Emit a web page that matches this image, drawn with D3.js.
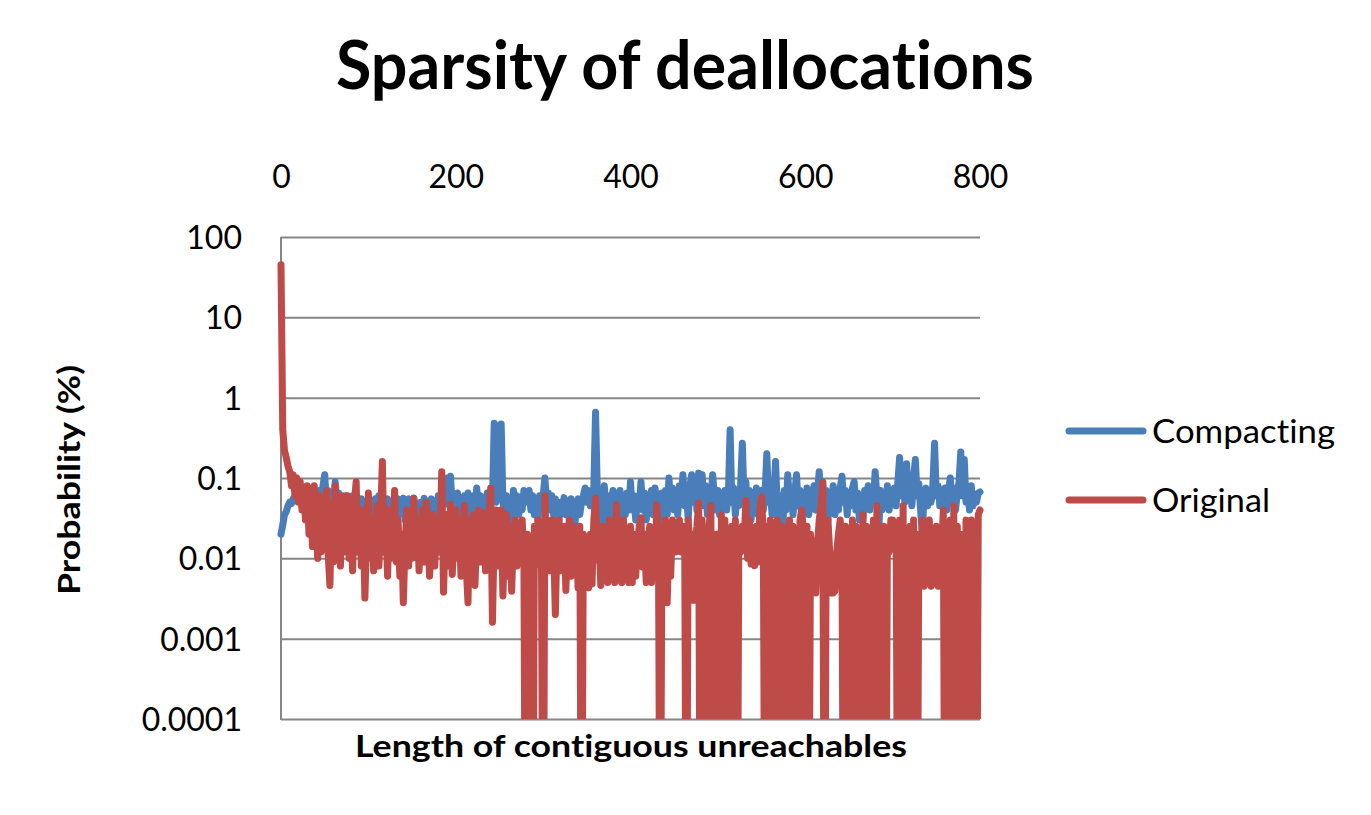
<!DOCTYPE html>
<html><head><meta charset="utf-8">
<script src="https://cdn.jsdelivr.net/npm/d3@7"></script>
<style>
body{margin:0;background:#fff;}
svg{display:block;}
text{font-family:Lato,"Open Sans",sans-serif;fill:#000;font-variant-ligatures:none;font-feature-settings:"liga" 0,"clig" 0;}
</style>
</head><body>
<svg id="chart" width="1371" height="815"></svg>
<script>
// ---- data ----
const lengths = d3.range(0, 801, 2);
const seriesNames = ["Compacting", "Original"];
const compacting = [
0.02,0.026,0.035,0.038,0.045,0.05,0.048,0.055,0.06,0.052,0.065,0.05,0.07,0.045,0.06,0.04,0.065,0.05,0.075,0.045,0.06,0.038,0.07,0.05,0.08,
0.11,0.05,0.07,0.04,0.06,0.045,0.09,0.05,0.065,0.035,0.055,0.04,0.06,0.032,0.05,0.04,0.06,0.035,0.05,0.045,0.03,0.055,0.04,0.05,0.035,
0.055,0.045,0.05,0.03,0.055,0.04,0.06,0.035,0.05,0.03,0.045,0.055,0.035,0.05,0.04,0.025,0.045,0.055,0.035,0.05,0.056,0.03,0.045,0.055,0.035,
0.05,0.056,0.03,0.045,0.025,0.05,0.035,0.056,0.04,0.02,0.045,0.055,0.03,0.05,0.035,0.06,0.04,0.065,0.045,0.08,0.1,0.05,0.105,0.045,0.06,
0.04,0.065,0.03,0.055,0.028,0.06,0.04,0.065,0.025,0.05,0.06,0.035,0.075,0.04,0.06,0.03,0.055,0.045,0.065,0.03,0.06,0.05,0.48,0.05,0.44,
0.06,0.47,0.05,0.035,0.06,0.04,0.055,0.03,0.07,0.045,0.06,0.035,0.055,0.04,0.07,0.05,0.065,0.07,0.04,0.06,0.035,0.055,0.03,0.06,0.045,
0.06,0.1,0.05,0.065,0.04,0.06,0.035,0.055,0.03,0.028,0.05,0.04,0.057,0.035,0.05,0.03,0.055,0.04,0.024,0.045,0.055,0.035,0.05,0.06,0.075,
0.05,0.07,0.045,0.065,0.075,0.66,0.07,0.01,0.05,0.008,0.08,0.04,0.06,0.03,0.055,0.07,0.04,0.055,0.02,0.07,0.005,0.06,0.035,0.065,0.04,
0.09,0.04,0.06,0.03,0.055,0.045,0.09,0.04,0.065,0.03,0.06,0.045,0.07,0.035,0.075,0.05,0.06,0.03,0.065,0.045,0.07,0.035,0.1,0.05,0.075,
0.04,0.07,0.035,0.08,0.05,0.11,0.045,0.075,0.03,0.08,0.11,0.05,0.09,0.04,0.115,0.06,0.11,0.045,0.08,0.035,0.07,0.05,0.11,0.06,0.04,
0.07,0.035,0.065,0.045,0.07,0.04,0.06,0.4,0.05,0.075,0.035,0.06,0.045,0.08,0.27,0.05,0.09,0.04,0.07,0.03,0.06,0.045,0.075,0.035,0.065,
0.07,0.04,0.065,0.2,0.05,0.075,0.035,0.06,0.16,0.045,0.02,0.06,0.018,0.07,0.04,0.11,0.05,0.075,0.035,0.065,0.11,0.045,0.07,0.03,0.06,
0.04,0.075,0.035,0.065,0.05,0.08,0.04,0.07,0.12,0.05,0.09,0.04,0.07,0.03,0.065,0.045,0.08,0.035,0.06,0.04,0.075,0.105,0.05,0.07,0.035,
0.065,0.045,0.075,0.09,0.04,0.065,0.03,0.06,0.03,0.07,0.045,0.08,0.04,0.065,0.05,0.12,0.06,0.02,0.07,0.04,0.065,0.045,0.08,0.04,0.07,
0.05,0.075,0.045,0.09,0.18,0.06,0.1,0.05,0.15,0.06,0.09,0.045,0.1,0.17,0.06,0.085,0.04,0.02,0.065,0.075,0.045,0.07,0.05,0.08,0.27,
0.06,0.08,0.045,0.07,0.05,0.075,0.04,0.07,0.1,0.05,0.075,0.04,0.065,0.09,0.21,0.06,0.17,0.05,0.07,0.04,0.08,0.045,0.06,0.05,0.065,
0.067
];
const original = [
45,0.4,0.22,0.18,0.14,0.12,0.08,0.11,0.06,0.1,0.05,0.09,0.04,0.07,0.03,0.08,0.02,0.06,0.014,0.08,0.03,0.01,0.06,0.012,0.04,
0.02,0.07,0.011,0.0046,0.05,0.009,0.08,0.015,0.04,0.008,0.06,0.012,0.03,0.06,0.01,0.025,0.007,0.05,0.09,0.012,0.03,0.008,0.04,0.0032,0.02,
0.065,0.01,0.03,0.007,0.02,0.045,0.008,0.03,0.16,0.012,0.025,0.006,0.04,0.01,0.02,0.07,0.009,0.03,0.006,0.02,0.0028,0.015,0.04,0.008,0.025,
0.01,0.056,0.012,0.03,0.007,0.02,0.04,0.009,0.05,0.027,0.006,0.02,0.035,0.008,0.03,0.012,0.02,0.12,0.0038,0.02,0.035,0.008,0.047,0.0063,0.02,
0.04,0.01,0.03,0.006,0.025,0.045,0.008,0.0028,0.03,0.01,0.035,0.0046,0.02,0.04,0.009,0.025,0.037,0.007,0.02,0.03,0.075,0.0016,0.02,0.04,0.008,
0.03,0.04,0.0034,0.02,0.035,0.006,0.025,0.0039,0.02,0.03,0.008,0.025,0.012,0.03,0.01,0,0.02,0,0.015,0,0.025,0.0083,0.03,0.012,0.02,
0,0.06,0.01,0.025,0.007,0.03,0.015,0.002,0.02,0.03,0.007,0.02,0.025,0.004,0.02,0.03,0.006,0.025,0.01,0.02,0.0043,0.025,0,0.02,0.0043,
0.015,0.0043,0.02,0.0048,0.03,0.056,0.0095,0.02,0.0046,0.025,0.01,0.02,0.005,0.03,0.008,0.02,0.005,0.046,0.006,0.025,0.005,0.03,0.007,0.02,0.005,
0.025,0.005,0.02,0.006,0.015,0.025,0.032,0.0078,0.02,0.005,0.015,0.025,0.005,0.02,0.006,0.046,0.015,0,0.025,0.02,0.03,0.0028,0.02,0.006,0.03,
0.02,0.012,0.02,0.03,0.012,0.025,0.02,0,0.03,0.015,0.02,0.003,0.015,0.025,0.049,0,0.03,0,0.02,0,0.025,0.045,0,0.02,0.015,
0.02,0,0.035,0,0.03,0,0.02,0,0.025,0,0.03,0,0.02,0.012,0.025,0.015,0.053,0.01,0.03,0.0085,0.02,0.0081,0.025,0.009,0.04,
0.058,0.02,0,0.025,0,0.03,0,0.02,0,0.03,0.015,0,0.025,0,0.02,0,0.03,0,0.025,0,0.02,0,0.03,0.04,0.02,
0,0.025,0,0.02,0.012,0.0085,0.0037,0.015,0.03,0.045,0.088,0,0.02,0.03,0.012,0.0037,0.0037,0.0039,0.012,0.02,0.03,0.015,0,0.025,0,
0.02,0,0.03,0,0.025,0,0.02,0,0.035,0,0.025,0,0.02,0,0.03,0,0.045,0,0.02,0,0.025,0,0.02,0.012,0.03,
0.03,0.015,0.025,0,0.03,0,0.045,0,0.02,0,0.025,0,0.03,0,0,0.02,0.005,0.03,0.0045,0.025,0.005,0.03,0.0045,0.02,0.006,
0.025,0.0045,0.02,0.012,0.04,0,0.025,0,0.03,0,0.045,0,0.025,0,0.02,0,0,0.03,0.025,0.02,0.03,0,0.02,0,0.035,
0.04
];
const seriesValues = [compacting, original];
const colors = ["#4A7EBB", "#BE4B48"];
const xTicks = [0, 200, 400, 600, 800];
const yTicks = [100, 10, 1, 0.1, 0.01, 0.001, 0.0001];
const yTickLabels = ["100", "10", "1", "0.1", "0.01", "0.001", "0.0001"];
const titleText = "Sparsity of deallocations";
const xTitle = "Length of contiguous unreachables";
const yTitle = "Probability (%)";

// ---- layout ----
const svg = d3.select("#chart");
const P = {left: 281, right: 980, top: 237, bottom: 719};
const x = d3.scaleLinear().domain([0, 800]).range([P.left, P.right]);
const y = d3.scaleLog().domain([1e-4, 100]).range([P.bottom, P.top]);
const GRID = "#868686";

function fit(sel, w) {
  const n = sel.node();
  const m = n.getComputedTextLength();
  if (Math.abs(m - w) / w > 0.015) sel.attr("textLength", w).attr("lengthAdjust", "spacingAndGlyphs");
}

// gridlines
svg.append("g")
  .attr("transform", `translate(${P.left},0)`)
  .call(d3.axisRight(y).tickValues(yTicks).tickSize(P.right - P.left).tickFormat(""))
  .call(g => g.select(".domain").remove())
  .call(g => g.selectAll("line").attr("stroke", GRID).attr("stroke-width", 2));

// left axis line
svg.append("line")
  .attr("x1", P.left).attr("x2", P.left).attr("y1", P.top).attr("y2", P.bottom + 1)
  .attr("stroke", GRID).attr("stroke-width", 2);

// y tick labels
svg.append("g")
  .attr("transform", `translate(${P.left},0)`)
  .call(d3.axisLeft(y).tickValues(yTicks).tickSize(0).tickPadding(39).tickFormat((d, i) => yTickLabels[i]))
  .call(g => g.select(".domain").remove())
  .call(g => g.selectAll("text").attr("font-size", 32).attr("font-family", "Lato").attr("fill", "#000").attr("dy", "0.36em"));

// x tick labels (top)
svg.append("g")
  .attr("transform", `translate(0,176)`)
  .call(d3.axisTop(x).tickValues(xTicks).tickSize(0).tickPadding(0))
  .call(g => g.select(".domain").remove())
  .call(g => g.selectAll("text").attr("font-size", 32).attr("font-family", "Lato").attr("fill", "#000").attr("y", 0).attr("dy", "0.36em"));

// clip
svg.append("clipPath").attr("id", "clip")
  .append("rect").attr("x", 0).attr("y", 0).attr("width", 1371).attr("height", P.bottom);

const line = d3.line()
  .x((d, i) => x(lengths[i]))
  .y(d => y(d > 0 ? d : 1e-7));

svg.append("g").attr("clip-path", "url(#clip)")
  .selectAll("path").data(seriesValues).join("path")
  .attr("d", d => line(d))
  .attr("fill", "none")
  .attr("stroke", (d, i) => colors[i])
  .attr("stroke-width", 7)
  .attr("stroke-linejoin", "round")
  .attr("stroke-linecap", "round");

// title
const t = svg.append("text").attr("x", 685).attr("y", 88.5).attr("text-anchor", "middle")
  .attr("font-size", 66).attr("font-weight", 700).text(titleText);
fit(t, 698);

// x title
const xt = svg.append("text").attr("x", 631).attr("y", 757).attr("text-anchor", "middle")
  .attr("font-size", 30).attr("font-weight", 700).text(xTitle);
fit(xt, 552);

// y title
const yt = svg.append("text").attr("transform", "translate(80,480) rotate(-90)").attr("text-anchor", "middle")
  .attr("font-size", 30).attr("font-weight", 700).text(yTitle);
fit(yt, 230);

// legend
const legendY = [431, 500];
const lg = svg.append("g").selectAll("g").data(seriesNames).join("g")
  .attr("transform", (d, i) => `translate(0,${legendY[i]})`);
lg.append("line").attr("x1", 1069).attr("x2", 1143).attr("y1", 0).attr("y2", 0)
  .attr("stroke", (d, i) => colors[i]).attr("stroke-width", 7).attr("stroke-linecap", "round");
lg.append("text").attr("x", 1152).attr("y", 0).attr("dy", "0.36em").attr("font-size", 32).text(d => d)
  .each(function(d, i) { fit(d3.select(this), [183, 118][i]); });
</script>
</body></html>
